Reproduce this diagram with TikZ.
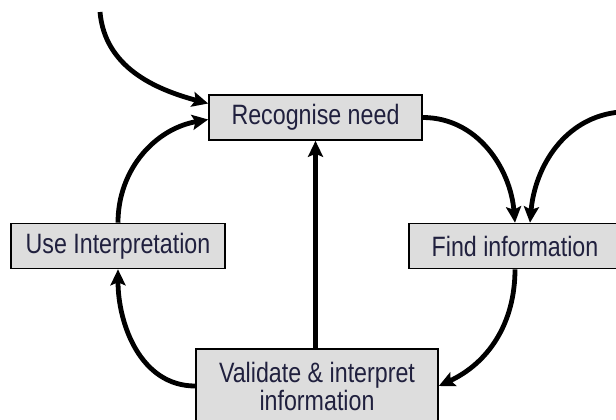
\documentclass[tikz,border=0pt]{standalone}
\usepackage{fontspec}
\setmainfont{Liberation Sans}[FakeStretch=0.83]
\usetikzlibrary{arrows.meta}
\definecolor{boxgray}{RGB}{221,221,221}
\definecolor{inkblue}{RGB}{32,32,62}

\begin{document}
\begin{tikzpicture}[x=1pt, y=1pt, >={Stealth[length=8pt,width=7.5pt,inset=1.5pt]}, node distance=64.25pt]
		\tikzstyle{box} = [draw, line width=0.8pt, fill=boxgray, text=inkblue, font=\fontsize{14}{14}\selectfont, align=center, minimum height=22.5pt, inner sep=0pt]
		\tikzstyle{flow} = [line width=2.4pt]

		\useasboundingbox (0,0) rectangle (308,-209.5);

		\path[->, flow]
		node[box, minimum width=106.5pt] (rec) at (157.75,-58.75) {Recognise need}
		node[box, minimum width=107pt, below of=rec, xshift=-98.75pt] (use) {Use Interpretation}
		node[box, minimum width=106pt, below of=rec, xshift=99.75pt] (find) {Find information}
		node[box, minimum width=121pt, minimum height=37pt, below of=rec, yshift=-70pt, xshift=0.75pt] (val) {Validate \& interpret\\information}

		coordinate (src) at (50,-6)
		coordinate (ext) at (310,-56)

		(src) edge[out=-85, in=165] ([yshift=7pt]rec.west)
		(use.north) edge[out=90, in=190] ([yshift=-1pt]rec.west)
		(rec.east) edge[out=0, in=95] (find.north)
		(ext) edge[out=185, in=85] ([xshift=7.5pt]find.north)
		(find.south) edge[out=-90, in=25] (val.east)
		(val.west) edge[out=180, in=-90] (use.south)
		(val.north -| rec.south) edge (rec.south)
		;
		\end{tikzpicture}
\end{document}
